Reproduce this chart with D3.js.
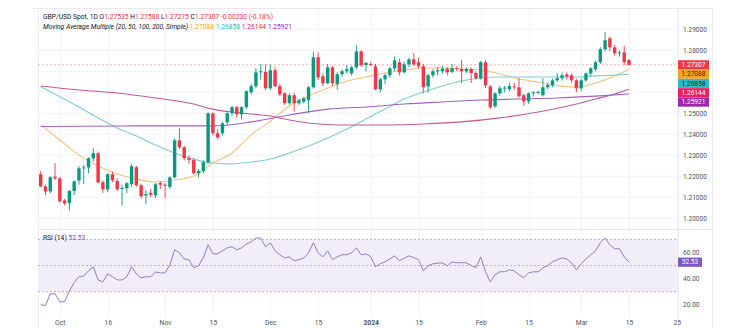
<!DOCTYPE html>
<html><head><meta charset="utf-8">
<script src="https://cdn.jsdelivr.net/npm/d3@7"></script>
<style>
html,body{margin:0;padding:0;background:#fff;}
svg{display:block;font-family:Roboto,"Noto Sans",sans-serif;}
</style>
</head><body>
<svg id="chart" width="750" height="328"></svg>
<script>
// ---- Data (bar index 0 = 26 Sep 2023, 123 = 15 Mar 2024) ----
const opens = [1.2210,1.2152,1.2128,1.2198,1.2190,1.2085,1.2072,1.2130,1.2180,1.2238,
1.2242,1.2285,1.2310,1.2172,1.2138,1.2210,1.2178,1.2140,1.2143,1.2162,
1.2243,1.2157,1.2108,1.2121,1.2110,1.2168,1.2160,1.2150,1.2195,1.2371,
1.2338,1.2286,1.2278,1.2214,1.2225,1.2267,1.2500,1.2405,1.2405,1.2457,
1.2500,1.2529,1.2495,1.2529,1.2600,1.2629,1.2695,1.2697,1.2619,1.2705,
1.2629,1.2595,1.2548,1.2586,1.2548,1.2555,1.2562,1.2624,1.2767,1.2676,
1.2643,1.2719,1.2640,1.2686,1.2700,1.2690,1.2719,1.2795,1.2730,1.2735,
1.2724,1.2614,1.2662,1.2681,1.2714,1.2743,1.2695,1.2733,1.2757,1.2743,
1.2724,1.2628,1.2681,1.2700,1.2700,1.2712,1.2697,1.2715,1.2711,1.2700,
1.2711,1.2692,1.2667,1.2743,1.2628,1.2533,1.2595,1.2620,1.2615,1.2628,
1.2624,1.2586,1.2557,1.2595,1.2597,1.2586,1.2624,1.2633,1.2657,1.2667,
1.2685,1.2681,1.2657,1.2619,1.2657,1.2690,1.2710,1.2743,1.2805,1.2857,
1.2814,1.2786,1.2790,1.27535];
const highs = [1.2225,1.2160,1.2200,1.2263,1.2196,1.2092,1.2135,1.2180,1.2248,1.2254,
1.2290,1.2333,1.2318,1.2180,1.2215,1.2222,1.2190,1.2160,1.2172,1.2258,
1.2250,1.2165,1.2135,1.2140,1.2168,1.2175,1.2168,1.2200,1.2380,1.2428,
1.2345,1.2300,1.2285,1.2235,1.2275,1.2505,1.2505,1.2425,1.2460,1.2505,
1.2535,1.2535,1.2535,1.2610,1.2640,1.2715,1.2735,1.2733,1.2733,1.2720,
1.2640,1.2600,1.2595,1.2598,1.2570,1.2578,1.2630,1.2793,1.2790,1.2690,
1.2735,1.2725,1.2695,1.2710,1.2728,1.2725,1.2825,1.2800,1.2744,1.2745,
1.2735,1.2670,1.2690,1.2720,1.2770,1.2760,1.2745,1.2765,1.2786,1.2765,
1.2735,1.2690,1.2710,1.2720,1.2725,1.2720,1.2735,1.2725,1.2754,1.2720,
1.2718,1.2700,1.2750,1.2752,1.2635,1.2600,1.2630,1.2630,1.2645,1.2645,
1.2668,1.2592,1.2600,1.2605,1.2608,1.2668,1.2645,1.2665,1.2690,1.2695,
1.2695,1.2690,1.2665,1.2665,1.2695,1.2720,1.2750,1.2815,1.2886,1.2866,
1.2825,1.2800,1.2822,1.27588];
const lows = [1.2148,1.2110,1.2120,1.2182,1.2075,1.2062,1.2038,1.2110,1.2160,1.2163,
1.2215,1.2270,1.2165,1.2121,1.2125,1.2172,1.2130,1.2062,1.2120,1.2150,
1.2150,1.2095,1.2068,1.2100,1.2095,1.2140,1.2096,1.2140,1.2190,1.2330,
1.2275,1.2260,1.2210,1.2195,1.2215,1.2260,1.2395,1.2375,1.2395,1.2445,
1.2490,1.2480,1.2470,1.2520,1.2590,1.2620,1.2659,1.2610,1.2612,1.2625,
1.2582,1.2540,1.2540,1.2508,1.2540,1.2548,1.2503,1.2618,1.2660,1.2630,
1.2638,1.2630,1.2612,1.2675,1.2690,1.2680,1.2710,1.2720,1.2700,1.2725,
1.2610,1.2600,1.2640,1.2670,1.2700,1.2680,1.2690,1.2720,1.2725,1.2715,
1.2597,1.2598,1.2670,1.2680,1.2690,1.2680,1.2690,1.2700,1.2644,1.2690,
1.2644,1.2660,1.2660,1.2620,1.2520,1.2525,1.2585,1.2600,1.2605,1.2610,
1.2575,1.2535,1.2545,1.2580,1.2590,1.2580,1.2615,1.2625,1.2650,1.2655,
1.2660,1.2645,1.2600,1.2605,1.2650,1.2675,1.2700,1.2735,1.2795,1.2795,
1.2775,1.2770,1.2730,1.27275];
const closes = [1.2152,1.2128,1.2195,1.2190,1.2081,1.2071,1.2130,1.2176,1.2238,1.2242,
1.2286,1.2310,1.2171,1.2138,1.2210,1.2181,1.2138,1.2145,1.2167,1.2248,
1.2157,1.2105,1.2115,1.2112,1.2162,1.2160,1.2155,1.2195,1.2371,1.2338,
1.2286,1.2278,1.2214,1.2225,1.2267,1.2500,1.2405,1.2385,1.2452,1.2500,
1.2529,1.2495,1.2529,1.2605,1.2629,1.2695,1.2700,1.2619,1.2705,1.2629,
1.2590,1.2548,1.2586,1.2548,1.2562,1.2571,1.2624,1.2767,1.2671,1.2643,
1.2719,1.2643,1.2686,1.2700,1.2710,1.2719,1.2795,1.2729,1.2740,1.2730,
1.2614,1.2662,1.2681,1.2714,1.2752,1.2695,1.2733,1.2757,1.2733,1.2724,
1.2624,1.2681,1.2700,1.2705,1.2712,1.2695,1.2715,1.2711,1.2700,1.2711,
1.2692,1.2667,1.2743,1.2633,1.2529,1.2595,1.2619,1.2622,1.2630,1.2625,
1.2581,1.2557,1.2595,1.2600,1.2602,1.2624,1.2635,1.2657,1.2667,1.2681,
1.2675,1.2657,1.2619,1.2657,1.2690,1.2714,1.2743,1.2805,1.2848,1.2814,
1.2786,1.2790,1.2743,1.27307];

// Moving averages read at sample bars
const sma20Idx = [0,4,8,12,16,20,24,28,32,36,40,44,48,52,56,60,64,68,72,76,80,84,88,92,96,100,104,108,112,116,120,123];
const sma20 = [1.2445,1.2373,1.2301,1.2249,1.2211,1.2187,1.2173,1.2182,1.2201,1.2263,1.2311,1.2397,1.2463,1.2535,1.2582,1.2620,1.2654,1.2673,1.2692,1.2706,1.2716,1.2716,1.2711,1.2706,1.2687,1.2663,1.2649,1.2632,1.2625,1.2644,1.2678,1.27088];
const sma50Idx = [0,8,12,16,20,24,28,32,36,40,44,48,52,56,60,64,68,72,76,80,84,88,92,96,100,104,108,112,116,120,123];
const sma50 = [1.2627,1.2530,1.2478,1.2430,1.2392,1.2349,1.2311,1.2282,1.2263,1.2259,1.2268,1.2282,1.2311,1.2344,1.2382,1.2425,1.2473,1.2520,1.2568,1.2601,1.2630,1.2654,1.2668,1.2673,1.2673,1.2673,1.2673,1.2673,1.2678,1.2682,1.26858];
const sma100Idx = [0,8,16,24,32,36,40,44,48,52,56,60,64,72,80,88,96,104,112,116,120,123];
const sma100 = [1.2630,1.2611,1.2597,1.2573,1.2544,1.2520,1.2506,1.2497,1.2487,1.2468,1.2454,1.2447,1.2444,1.2444,1.2449,1.2459,1.2478,1.2506,1.2544,1.2568,1.2592,1.26144];
const sma200Idx = [0,20,36,44,52,60,68,76,84,92,100,108,116,123];
const sma200 = [1.2437,1.2440,1.2440,1.2459,1.2492,1.2520,1.2530,1.2544,1.2554,1.2563,1.2568,1.2573,1.2582,1.25921];

const rsi = [20,19.5,28.4,28.4,22.3,22.3,30.5,37,41.4,42.1,
46,49,39,37.5,43.6,41.4,39,39,41.4,49,
43.6,40.6,41.4,41.4,45,44.4,44.4,50.5,62,59.7,
55,54.4,48.3,49.8,55.8,65.8,58.9,58.9,61.2,63.5,
64.3,62,63.5,66.5,68,71,71,64.3,67.3,61.2,
58.2,55.8,56.6,53.6,54.4,55.8,59.7,67.3,59.7,56.6,
61.2,54.4,56.6,58.2,58.2,59.7,63.5,58.2,58.9,56.6,
49,51.3,52.8,55,57.4,53.6,55.5,57.4,56,54.4,
46,49.8,51.3,51.8,52,49.8,52.8,52,52.2,52,
50,48.3,56.6,45.2,37.5,42.9,45.2,45.2,46.7,46,
42.9,40.6,44.4,45.2,45.2,48.3,49.8,52.8,54.4,55.8,
55,52,46.7,51.3,55,58.2,61.2,67.3,71,65.8,
62.8,62.8,56.6,52.53];

const priceTicks = [1.20,1.21,1.22,1.23,1.24,1.25,1.26,1.27,1.28,1.29];
const rsiTicks = [20,40,60];
const timeTickIdx = [4,14,26,36,48,58,69,79,92,102,113,123,133];
const timeTickLabels = ["Oct","16","Nov","15","Dec","15","2024","15","Feb","15","Mar","15","25"];

const maLast = [1.27088,1.26858,1.26144,1.25921];
const header = {sym:"GBP/USD Spot, 1D", o:"1.27535", h:"1.27588", l:"1.27275", c:"1.27307", chg:"-0.00230 (-0.18%)"};
const rsiLast = 52.53;

// ---- Layout ----
const svg = d3.select("#chart");
const L = 38, R = 678, AX = 712;
const pTop = 8, pBot = 229, rBot = 314;
const C_UP = "#089981", C_DN = "#f23645";
const maLine = ["#f5c27d","#7fcdd6","#c5589a","#a064c0"];
const maBox = ["#f7a21b","#2fb8c6","#e91e63","#9c27b0"];
const maBoxText = ["#3a2a00","#0c2f33","#fff","#fff"];

const x = d3.scaleLinear().domain([0,123]).range([40.7,629]);
const y = d3.scaleLinear().domain([1.20,1.29]).range([218.3,29.3]);
const yr = d3.scaleLinear().domain([30,70]).range([291.7,239.3]);

svg.append("rect").attr("x",0).attr("y",0).attr("width",750).attr("height",328).attr("fill","#fff");

// grid
const g = svg.append("g");
g.selectAll(".hg").data(priceTicks).join("line")
  .attr("x1",L).attr("x2",R).attr("y1",d=>y(d)).attr("y2",d=>y(d))
  .attr("stroke","#f2f3f6").attr("stroke-width",1);
g.selectAll(".vg").data(timeTickIdx).join("line")
  .attr("x1",d=>Math.round(x(d))+0.5).attr("x2",d=>Math.round(x(d))+0.5)
  .attr("y1",pTop).attr("y2",rBot+3)
  .attr("stroke","#f2f3f6").attr("stroke-width",1);

// borders
svg.append("line").attr("x1",L-5).attr("x2",AX).attr("y1",pTop+0.5).attr("y2",pTop+0.5).attr("stroke","#e6e8ee");
svg.append("line").attr("x1",R+0.5).attr("x2",R+0.5).attr("y1",pTop).attr("y2",rBot+14).attr("stroke","#eceef2");
svg.append("line").attr("x1",AX+0.5).attr("x2",AX+0.5).attr("y1",pTop).attr("y2",328).attr("stroke","#eceef2");
svg.append("line").attr("x1",L+0.5).attr("x2",L+0.5).attr("y1",pTop).attr("y2",rBot+14).attr("stroke","#eceef2");
svg.append("line").attr("x1",L).attr("x2",AX).attr("y1",pBot+0.5).attr("y2",pBot+0.5).attr("stroke","#e6e8ee");

// last price dashed line
const lastC = closes[closes.length-1];
svg.append("line").attr("x1",L).attr("x2",R).attr("y1",y(lastC)).attr("y2",y(lastC))
  .attr("stroke","#f4a0a6").attr("stroke-width",0.8).attr("stroke-dasharray","2,2");

// moving averages
const maData = [[sma20Idx,sma20],[sma50Idx,sma50],[sma100Idx,sma100],[sma200Idx,sma200]];
const lineGen = d3.line().x(d=>x(d[0])).y(d=>y(d[1])).curve(d3.curveMonotoneX);
maData.forEach((m,k)=>{
  const pts = m[0].map((ix,j)=>[ix,m[1][j]]);
  svg.append("path").attr("d",lineGen(pts)).attr("fill","none")
    .attr("stroke",maLine[k]).attr("stroke-width",1.1);
});

// candles
const idx = d3.range(closes.length);
const cg = svg.append("g");
cg.selectAll(".wick").data(idx).join("line")
  .attr("x1",i=>x(i)).attr("x2",i=>x(i))
  .attr("y1",i=>y(highs[i])).attr("y2",i=>y(lows[i]))
  .attr("stroke",i=>closes[i]>=opens[i]?C_UP:C_DN).attr("stroke-width",0.9);
const bw = 3.4;
cg.selectAll(".body").data(idx).join("rect")
  .attr("x",i=>x(i)-bw/2).attr("width",bw)
  .attr("y",i=>y(Math.max(opens[i],closes[i])))
  .attr("height",i=>Math.max(0.9,Math.abs(y(opens[i])-y(closes[i]))))
  .attr("fill",i=>closes[i]>=opens[i]?C_UP:C_DN);

// price labels (stacked), computed first so axis labels underneath can be hidden
const labels = [{v:lastC,fill:"#f23645",tc:"#fff"}]
  .concat(maLast.map((v,k)=>({v,fill:maBox[k],tc:maBoxText[k]})));
let prev = -1e9;
labels.forEach(lb=>{ lb.cy = Math.max(y(lb.v), prev+9.3); prev = lb.cy; });
const covered = v => labels.some(lb=>Math.abs(y(v)-lb.cy) < 8);

// price axis
const pa = svg.append("g").attr("transform",`translate(${R+5},0)`)
  .call(d3.axisRight(y).tickValues(priceTicks.filter(v=>!covered(v))).tickFormat(d3.format(".5f")).tickSize(0));
pa.select(".domain").remove();
pa.selectAll("text").attr("x",0).attr("fill","#50535e").attr("font-size","6.6px").attr("font-family","Roboto,sans-serif");

labels.forEach(lb=>{
  svg.append("rect").attr("x",R).attr("y",lb.cy-4.6).attr("width",31).attr("height",9.2).attr("fill",lb.fill);
  svg.append("text").attr("x",R+15.5).attr("y",lb.cy+2.3).attr("text-anchor","middle")
    .attr("font-size","6.6px").attr("fill",lb.tc).text(d3.format(".5f")(lb.v));
});

// header
const h1 = svg.append("text").attr("x",43).attr("y",18.5).attr("font-size","6.7px").attr("fill","#131722");
h1.append("tspan").text(header.sym+"  ");
[["O",header.o],["H",header.h],["L",header.l],["C",header.c]].forEach(p=>{
  h1.append("tspan").attr("fill","#131722").text(p[0]);
  h1.append("tspan").attr("fill","#f23645").text(p[1]+"  ");
});
h1.append("tspan").attr("fill","#f23645").text(header.chg);
const h2 = svg.append("text").attr("x",43).attr("y",28.5).attr("font-size","6.7px").attr("fill","#131722");
h2.append("tspan").attr("font-style","italic").text("Moving Average Multiple (20, 50, 100, 200, Simple)  ");
maLast.forEach((v,k)=>{
  h2.append("tspan").attr("fill",maBox[k]).text(d3.format(".5f")(v)+"  ");
});

// RSI pane
svg.append("rect").attr("x",L).attr("width",R-L).attr("y",yr(70)).attr("height",yr(30)-yr(70)).attr("fill","#f1edf9");
[70,50,30].forEach(v=>{
  svg.append("line").attr("x1",L).attr("x2",R).attr("y1",yr(v)).attr("y2",yr(v))
    .attr("stroke","#a79fb8").attr("stroke-width",0.8).attr("stroke-dasharray","2,2");
});
svg.append("path").attr("d",d3.line().x((d,i)=>x(i)).y(d=>yr(d))(rsi))
  .attr("fill","none").attr("stroke","#8f7ec6").attr("stroke-width",1);

const ra = svg.append("g").attr("transform",`translate(${R+5},0)`)
  .call(d3.axisRight(yr).tickValues(rsiTicks).tickFormat(d3.format(".2f")).tickSize(0));
ra.select(".domain").remove();
ra.selectAll("text").attr("x",0).attr("fill","#50535e").attr("font-size","6.6px").attr("font-family","Roboto,sans-serif");
svg.append("rect").attr("x",R).attr("y",yr(rsiLast)-4.6).attr("width",24).attr("height",9.2).attr("fill","#7e57c2");
svg.append("text").attr("x",R+12).attr("y",yr(rsiLast)+2.3).attr("text-anchor","middle")
  .attr("font-size","6.6px").attr("fill","#fff").text(rsiLast.toFixed(2));

const rt = svg.append("text").attr("x",43).attr("y",239.5).attr("font-size","6.7px").attr("fill","#131722");
rt.append("tspan").text("RSI (14)  ");
rt.append("tspan").attr("fill","#7e57c2").text(rsiLast.toFixed(2));

// time axis
const ta = svg.append("g").attr("transform",`translate(0,${rBot+3})`)
  .call(d3.axisBottom(x).tickValues(timeTickIdx).tickFormat((d,i)=>timeTickLabels[i]).tickSize(0));
ta.select(".domain").remove();
ta.selectAll("text").attr("fill","#50535e").attr("font-size","6.8px").attr("font-family","Roboto,sans-serif")
  .attr("font-weight",(d,i)=>timeTickLabels[i]==="2024"?"bold":"normal");
</script>
</body></html>
